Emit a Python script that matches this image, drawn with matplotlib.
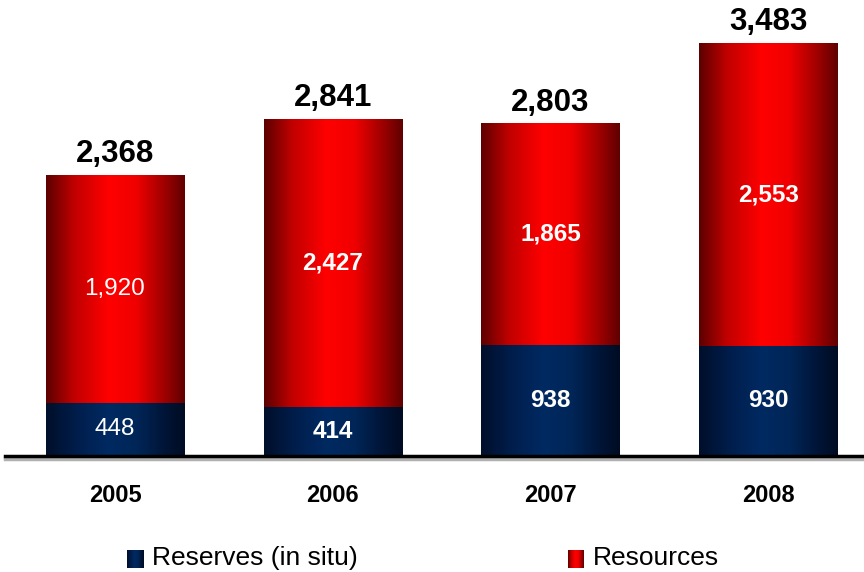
import numpy as np
import matplotlib.pyplot as plt
from matplotlib.colors import LinearSegmentedColormap

years = ['2005', '2006', '2007', '2008']
reserves = [448, 414, 938, 930]
resources = [1920, 2427, 1865, 2553]
totals = [2368, 2841, 2803, 3483]
label_bold = [False, True, True, True]

plt.rcParams['font.family'] = ['Liberation Sans', 'DejaVu Sans']

# horizontal shading: dark edges, bright just left of centre
red_cmap = LinearSegmentedColormap.from_list(
    'red_bar', [(0.0, '#5c0000'), (0.2, '#c00000'), (0.45, '#ff0000'),
                (0.65, '#f00000'), (0.85, '#a00000'), (1.0, '#600000')])
blue_cmap = LinearSegmentedColormap.from_list(
    'blue_bar', [(0.0, '#000f2a'), (0.25, '#001f4f'), (0.45, '#002a62'),
                 (0.65, '#002658'), (0.85, '#001538'), (1.0, '#000c22')])
grad = np.linspace(0, 1, 256).reshape(1, -1)

fig = plt.figure(figsize=(8.64, 5.72), dpi=100)
ax = fig.add_axes([5 / 864, 116 / 572, 859 / 864, 456 / 572])
ax.axis('off')

width = 0.634
x = np.arange(len(years))


def shaded_bar(xc, y0, h, cmap):
    ax.imshow(grad, cmap=cmap, aspect='auto', interpolation='bilinear',
              extent=[xc - width / 2, xc + width / 2, y0, y0 + h], zorder=2)


for i in x:
    shaded_bar(i, 0, reserves[i], blue_cmap)
    shaded_bar(i, reserves[i], resources[i], red_cmap)
    wt = 'bold' if label_bold[i] else 'normal'
    ax.text(i, reserves[i] / 2, f'{reserves[i]:,}', ha='center', va='center',
            color='white', fontsize=17.5, fontweight=wt, zorder=3)
    ax.text(i, reserves[i] + resources[i] / 2, f'{resources[i]:,}',
            ha='center', va='center', color='white', fontsize=17.5,
            fontweight=wt, zorder=3)
    ax.text(i, totals[i] + 110, f'{totals[i]:,}', ha='center', va='baseline',
            fontsize=22.5, fontweight='bold', zorder=3)

ax.set_xlim(-0.505, 3.44)
ax.set_ylim(0, 3848)

# baseline with a soft shadow underneath
ax.axhline(-22, color='#b0b0b0', lw=2.5, zorder=1, clip_on=False)
ax.axhline(0, color='black', lw=2.5, zorder=4, clip_on=False)

for i, yr in enumerate(years):
    fig.text((5 + (i + 0.505) * 859 / 3.945) / 864, 1 - 495 / 572, yr,
             ha='center', va='center', fontsize=17, fontweight='bold')

# legend
legend_items = [('Reserves (in situ)', blue_cmap, 127), ('Resources', red_cmap, 568)]
for name, cmap, px in legend_items:
    lax = fig.add_axes([px / 864, 1 - 568 / 572, 16 / 864, 18 / 572])
    lax.imshow(grad, cmap=cmap, aspect='auto')
    lax.axis('off')
    fig.text((px + 25) / 864, 1 - 558 / 572, name, ha='left', va='center',
             fontsize=19)

fig.savefig('out.png', dpi=100)
